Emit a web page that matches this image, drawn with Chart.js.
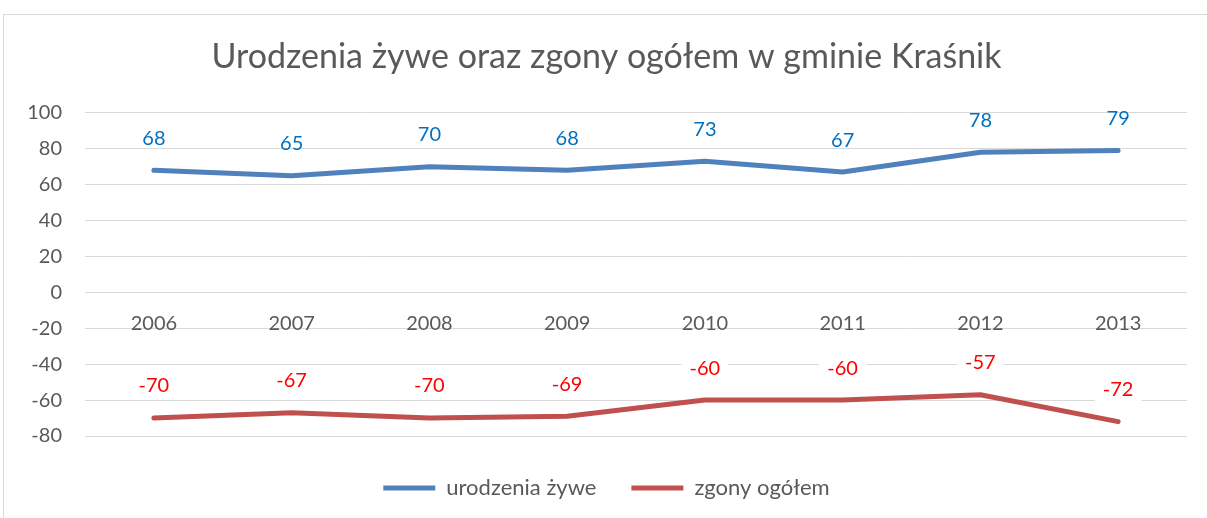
<!DOCTYPE html>
<html>
<head>
<meta charset="utf-8">
<script src="https://cdn.jsdelivr.net/npm/chart.js@4/dist/chart.umd.min.js"></script>
<style>
  html, body { margin: 0; padding: 0; background: #fff; }
  #wrap { position: relative; width: 1207px; height: 518px; }
</style>
</head>
<body>
<div id="wrap"><canvas id="myChart" width="1207" height="518"></canvas></div>
<script>
const years = ['2006', '2007', '2008', '2009', '2010', '2011', '2012', '2013'];
const births = [68, 65, 70, 68, 73, 67, 78, 79];
const deaths = [-70, -67, -70, -69, -60, -60, -57, -72];
const yTicks = { min: -80, max: 100, step: 20 };

const textGray = '#595959';
const font = 'Lato';

// frame around the whole chart, like the Excel chart border
const framePlugin = {
    id: 'frame',
    beforeDraw(chart) {
        const c = chart.ctx;
        c.save();
        c.fillStyle = '#fff';
        c.fillRect(0, 0, chart.width, chart.height);
        c.strokeStyle = '#d9d9d9';
        c.lineWidth = 1;
        c.strokeRect(3.5, 14.5, chart.width + 10, chart.height);
        c.restore();
    }
};

// value labels above each point
const valueLabels = {
    id: 'valueLabels',
    afterDatasetsDraw(chart) {
        const c = chart.ctx;
        c.save();
        c.font = '20px ' + font;
        c.textAlign = 'center';
        c.textBaseline = 'middle';
        chart.data.datasets.forEach((ds, i) => {
            const meta = chart.getDatasetMeta(i);
            meta.data.forEach((pt, j) => {
                const txt = String(ds.data[j]);
                const x = pt.x, y = pt.y - 32;
                if (ds.labelBox) {
                    const w = c.measureText(txt).width + 16;
                    c.fillStyle = '#fff';
                    c.fillRect(x - w / 2, y - 13, w, 26);
                }
                c.fillStyle = ds.labelColor;
                c.fillText(txt, x, y);
            });
        });
        c.restore();
    }
};

const ctx = document.getElementById('myChart').getContext('2d');

const data = {
    labels: years,
    datasets: [{
        label: 'urodzenia żywe',
        data: births,
        borderColor: '#4F81BD',
        backgroundColor: '#4F81BD',
        borderWidth: 5,
        borderCapStyle: 'round',
        borderJoinStyle: 'round',
        pointRadius: 0,
        labelColor: '#0070C0',
        labelBox: false
    }, {
        label: 'zgony ogółem',
        data: deaths,
        borderColor: '#C0504D',
        backgroundColor: '#C0504D',
        borderWidth: 5,
        borderCapStyle: 'round',
        borderJoinStyle: 'round',
        pointRadius: 0,
        labelColor: '#FF0000',
        labelBox: true
    }]
};

const config = {
    type: 'line',
    data: data,
    options: {
        responsive: false,
        animation: false,
        layout: { padding: { left: 26, right: 20, top: 0, bottom: 9 } },
        scales: {
            x: {
                position: { y: 0 },
                offset: true,
                grid: { display: false, drawTicks: false },
                border: { display: false },
                ticks: {
                    color: textGray,
                    font: { family: font, size: 20 },
                    padding: 19,
                    maxRotation: 0
                }
            },
            y: {
                min: yTicks.min,
                max: yTicks.max,
                afterFit(scale) { scale.width = 59; },
                grid: { color: '#d9d9d9', drawTicks: false },
                border: { display: false },
                ticks: {
                    stepSize: yTicks.step,
                    color: textGray,
                    font: { family: font, size: 20 },
                    padding: 23
                }
            }
        },
        plugins: {
            title: {
                display: true,
                text: 'Urodzenia żywe oraz zgony ogółem w gminie Kraśnik',
                color: textGray,
                font: { family: font, size: 34, weight: 'normal' },
                padding: { top: 37, bottom: 35 }
            },
            legend: {
                position: 'bottom',
                title: { display: true, text: '', padding: 0, font: { size: 5 } },
                labels: {
                    usePointStyle: true,
                    pointStyle: 'line',
                    pointStyleWidth: 52,
                    padding: 35,
                    color: textGray,
                    font: { family: font, size: 22 }
                }
            },
            tooltip: { enabled: false }
        }
    },
    plugins: [framePlugin, valueLabels]
};

const myChart = new Chart(ctx, config);
</script>
</body>
</html>
